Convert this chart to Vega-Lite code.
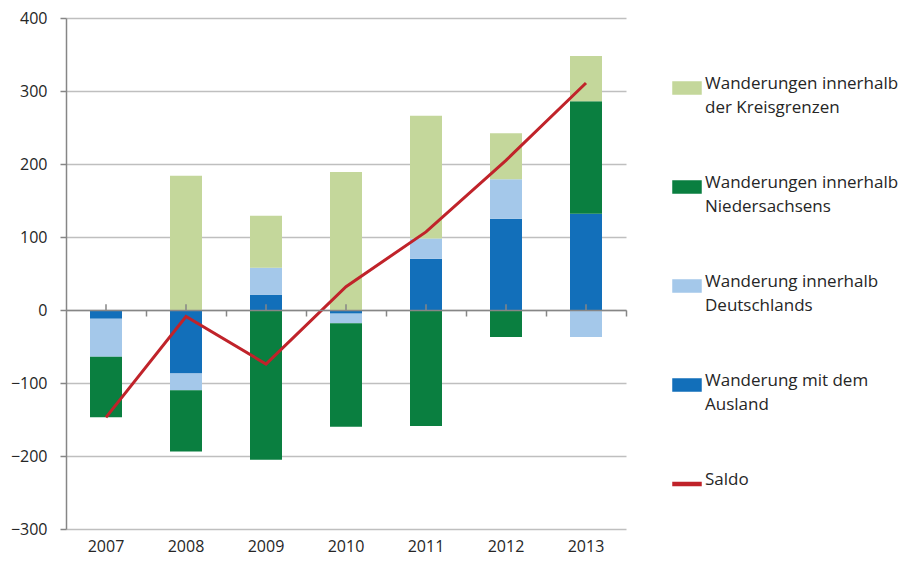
{
  "$schema": "https://vega.github.io/schema/vega-lite/v6.json",
  "width": 560,
  "height": 511,
  "autosize": {"type": "none"},
  "padding": {"left": 66, "top": 18, "right": 278, "bottom": 34},
  "config": {"view": {"stroke": null}, "font": "Open Sans"},
  "datasets": {
    "wanderung": [
      {"Jahr": "2007", "Kategorie": "Wanderung mit dem Ausland", "Wert": -12},
      {"Jahr": "2007", "Kategorie": "Wanderung innerhalb Deutschlands", "Wert": -52},
      {"Jahr": "2007", "Kategorie": "Wanderungen innerhalb Niedersachsens", "Wert": -83},
      {"Jahr": "2007", "Kategorie": "Wanderungen innerhalb der Kreisgrenzen", "Wert": 0},
      {"Jahr": "2008", "Kategorie": "Wanderung mit dem Ausland", "Wert": -87},
      {"Jahr": "2008", "Kategorie": "Wanderung innerhalb Deutschlands", "Wert": -23},
      {"Jahr": "2008", "Kategorie": "Wanderungen innerhalb Niedersachsens", "Wert": -84},
      {"Jahr": "2008", "Kategorie": "Wanderungen innerhalb der Kreisgrenzen", "Wert": 184},
      {"Jahr": "2009", "Kategorie": "Wanderung mit dem Ausland", "Wert": 21},
      {"Jahr": "2009", "Kategorie": "Wanderung innerhalb Deutschlands", "Wert": 37},
      {"Jahr": "2009", "Kategorie": "Wanderungen innerhalb Niedersachsens", "Wert": -205},
      {"Jahr": "2009", "Kategorie": "Wanderungen innerhalb der Kreisgrenzen", "Wert": 71},
      {"Jahr": "2010", "Kategorie": "Wanderung mit dem Ausland", "Wert": -5},
      {"Jahr": "2010", "Kategorie": "Wanderung innerhalb Deutschlands", "Wert": -13},
      {"Jahr": "2010", "Kategorie": "Wanderungen innerhalb Niedersachsens", "Wert": -142},
      {"Jahr": "2010", "Kategorie": "Wanderungen innerhalb der Kreisgrenzen", "Wert": 189},
      {"Jahr": "2011", "Kategorie": "Wanderung mit dem Ausland", "Wert": 70},
      {"Jahr": "2011", "Kategorie": "Wanderung innerhalb Deutschlands", "Wert": 28},
      {"Jahr": "2011", "Kategorie": "Wanderungen innerhalb Niedersachsens", "Wert": -159},
      {"Jahr": "2011", "Kategorie": "Wanderungen innerhalb der Kreisgrenzen", "Wert": 168},
      {"Jahr": "2012", "Kategorie": "Wanderung mit dem Ausland", "Wert": 125},
      {"Jahr": "2012", "Kategorie": "Wanderung innerhalb Deutschlands", "Wert": 54},
      {"Jahr": "2012", "Kategorie": "Wanderungen innerhalb Niedersachsens", "Wert": -37},
      {"Jahr": "2012", "Kategorie": "Wanderungen innerhalb der Kreisgrenzen", "Wert": 63},
      {"Jahr": "2013", "Kategorie": "Wanderung mit dem Ausland", "Wert": 132},
      {"Jahr": "2013", "Kategorie": "Wanderung innerhalb Deutschlands", "Wert": -37},
      {"Jahr": "2013", "Kategorie": "Wanderungen innerhalb Niedersachsens", "Wert": 154},
      {"Jahr": "2013", "Kategorie": "Wanderungen innerhalb der Kreisgrenzen", "Wert": 62}
    ],
    "saldo": [
      {"Jahr": "2007", "Saldo": -147},
      {"Jahr": "2008", "Saldo": -9},
      {"Jahr": "2009", "Saldo": -74},
      {"Jahr": "2010", "Saldo": 32},
      {"Jahr": "2011", "Saldo": 107},
      {"Jahr": "2012", "Saldo": 205},
      {"Jahr": "2013", "Saldo": 311}
    ]
  },
  "layer": [
    {
      "data": {"name": "wanderung"},
      "transform": [
        {"calculate": "indexof(['Wanderung mit dem Ausland','Wanderung innerhalb Deutschlands','Wanderungen innerhalb Niedersachsens','Wanderungen innerhalb der Kreisgrenzen'], datum.Kategorie)", "as": "rang"}
      ],
      "mark": {"type": "bar"},
      "encoding": {
        "x": {
          "field": "Jahr", "type": "nominal",
          "scale": {"paddingInner": 0.6, "paddingOuter": 0.3},
          "axis": {"title": null, "labelAngle": 0, "domain": false, "ticks": false, "labelPadding": 9, "labelFontSize": 16, "labelColor": "#262626", "grid": false}
        },
        "y": {
          "field": "Wert", "type": "quantitative", "stack": "zero",
          "scale": {"domain": [-300, 400], "nice": false},
          "axis": {"title": null, "values": [-300, -200, -100, 0, 100, 200, 300, 400], "gridColor": "#BFBFBF", "gridWidth": 1.5, "domainColor": "#868686", "domainWidth": 1.5, "tickColor": "#868686", "tickSize": 6, "tickWidth": 1.5, "labelPadding": 13, "labelFontSize": 16, "labelColor": "#262626"}
        },
        "color": {
          "field": "Kategorie", "type": "nominal",
          "scale": {
            "domain": ["Wanderungen innerhalb der Kreisgrenzen", "Wanderungen innerhalb Niedersachsens", "Wanderung innerhalb Deutschlands", "Wanderung mit dem Ausland", "Saldo"],
            "range": ["#C4D79B", "#0A7F40", "#A4C8EA", "#126FBA", "#C0232A"]
          },
          "legend": {
            "orient": "none", "legendX": 606, "legendY": 55, "title": null, "padding": 0,
            "labelFont": "Open Sans", "labelFontSize": 17, "labelColor": "#262626",
            "labelLimit": 400, "labelOffset": 3, "rowPadding": 56, "symbolSize": 784,
            "labelBaseline": "top",
            "labelExpr": "datum.label == 'Wanderungen innerhalb der Kreisgrenzen' ? ['Wanderungen innerhalb', 'der Kreisgrenzen'] : datum.label == 'Wanderungen innerhalb Niedersachsens' ? ['Wanderungen innerhalb', 'Niedersachsens'] : datum.label == 'Wanderung innerhalb Deutschlands' ? ['Wanderung innerhalb', 'Deutschlands'] : datum.label == 'Wanderung mit dem Ausland' ? ['Wanderung mit dem', 'Ausland'] : [datum.label, '\u200b']",
            "encode": {
              "symbols": {"update": {
                "shape": {"signal": "datum.value === 'Saldo' ? 'M-1,-0.11H1V0.11H-1Z' : 'M-1,-0.43H1V0.43H-1Z'"},
                "fill": {"scale": "color", "field": "value"},
                "stroke": {"value": "transparent"},
                "opacity": {"value": 1}
              }},
              "labels": {"update": {"lineHeight": {"value": 23.5}, "dy": {"value": -12}}}
            }
          }
        },
        "order": {"field": "rang", "type": "quantitative"}
      }
    },
    {
      "data": {"name": "saldo"},
      "mark": {"type": "rule", "color": "#868686", "strokeWidth": 1.5},
      "encoding": {
        "x": {"field": "Jahr", "type": "nominal", "axis": null},
        "y": {"datum": 0},
        "y2": {"datum": 8}
      }
    },
    {
      "data": {"name": "saldo"},
      "mark": {"type": "line", "strokeWidth": 3},
      "encoding": {
        "x": {
          "field": "Jahr", "type": "nominal",
          "axis": {"title": null, "orient": "bottom", "offset": -219, "labels": false, "domainColor": "#868686", "domainWidth": 1.5, "ticks": true, "tickOffset": 40, "tickSize": 6, "tickColor": "#868686", "tickWidth": 1.5, "grid": false, "zindex": 1}
        },
        "y": {"field": "Saldo", "type": "quantitative"},
        "color": {"datum": "Saldo"}
      }
    }
  ],
  "resolve": {"axis": {"x": "independent"}}
}
